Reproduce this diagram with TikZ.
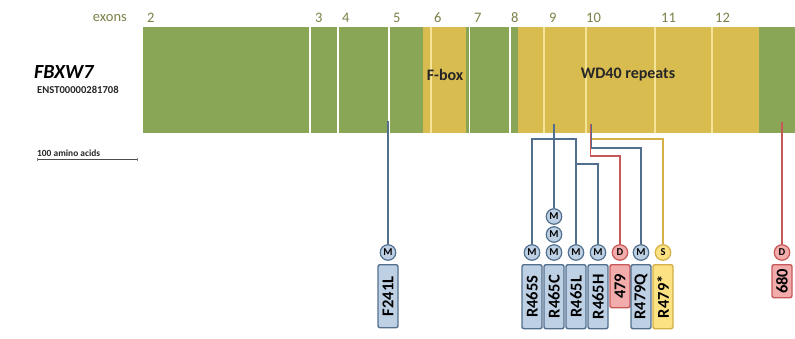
\documentclass[tikz,border=0pt]{standalone}
\usepackage{fontspec}
\setmainfont{Carlito}
\definecolor{exgreen}{RGB}{137,166,87}
\definecolor{exyellow}{RGB}{216,188,80}
\definecolor{paleline}{RGB}{246,228,150}
\definecolor{exlabel}{RGB}{125,128,72}
\definecolor{mline}{RGB}{82,112,142}
\definecolor{mfill}{RGB}{190,208,228}
\definecolor{dline}{RGB}{200,88,88}
\definecolor{dfill}{RGB}{242,172,172}
\definecolor{sline}{RGB}{212,176,70}
\definecolor{sfill}{RGB}{252,226,130}
\tikzset{
  exnum/.style={anchor=west,text=exlabel,font=\fontsize{14.5}{14.5}\selectfont,inner sep=0pt},
  domlabel/.style={font=\bfseries\fontsize{16}{16}\selectfont,text=black!85},
  badge/.style={circle,draw,line width=1.2pt,minimum size=15.5pt,inner sep=0pt,
    font=\bfseries\fontsize{10.5}{10.5}\selectfont},
  mbadge/.style={badge,draw=mline,fill=mfill},
  dbadge/.style={badge,draw=dline,fill=dfill},
  sbadge/.style={badge,draw=sline,fill=sfill},
  tag/.style={rectangle,rounded corners=2pt,rotate=90,anchor=east,line width=1.4pt,
    minimum height=20pt,inner sep=0pt,font=\bfseries\fontsize{16.5}{16.5}\selectfont},
  mtag/.style={tag,draw=mline,fill=mfill},
  dtag/.style={tag,draw=dline,fill=dfill},
  stag/.style={tag,draw=sline,fill=sfill},
  mwire/.style={draw=mline,line width=1.4pt},
  dwire/.style={draw=dline,line width=1.4pt},
  swire/.style={draw=sline,line width=1.4pt},
}
\begin{document}
\begin{tikzpicture}[x=1pt,y=-1pt]
\useasboundingbox (0,0) rectangle (795,338);
\fill[white] (0,0) rectangle (795,338);

% protein bar: exons coloured by domain
\fill[exgreen]  (143,27) rectangle (423,133);
\fill[exyellow] (423,27) rectangle (466,133);
\fill[exgreen]  (466,27) rectangle (518,133);
\fill[exyellow] (518,27) rectangle (759,133);
\fill[exgreen]  (759,27) rectangle (795,133);
% exon boundaries
\foreach \x in {310,338,389,469.5,510}
  \draw[white,line width=1.6pt] (\x,27) -- (\x,133);
\foreach \x in {431,544,586,655,712}
  \draw[paleline,line width=1.4pt] (\x,27) -- (\x,133);

% exon numbers
\node[anchor=east,text=exlabel,font=\fontsize{14.5}{14.5}\selectfont,inner sep=0pt] (exlab) at (127,18) {exons};
\node[exnum] (e2) at (147,18) {2};
\node[exnum] (e3) at (315,18) {3};
\node[exnum] (e4) at (342,18) {4};
\node[exnum] (e5) at (393,18) {5};
\node[exnum] (e6) at (434,18) {6};
\node[exnum] (e7) at (474,18) {7};
\node[exnum] (e8) at (511,18) {8};
\node[exnum] (e9) at (549,18) {9};
\node[exnum] (e10) at (586,18) {10};
\node[exnum] (e11) at (661,18) {11};
\node[exnum] (e12) at (715,18) {12};

% gene name, transcript and scale
\node[anchor=west,inner sep=0pt,font=\bfseries\itshape\fontsize{20}{20}\selectfont] (gene) at (34,72.5) {FBXW7};
\node[anchor=west,inner sep=0pt,font=\bfseries\fontsize{10.6}{10.6}\selectfont,text=black!85] (tx) at (37,90) {ENST00000281708};
\node[anchor=west,inner sep=0pt,font=\bfseries\fontsize{9.4}{9.4}\selectfont,text=black!85] (scl) at (37,153) {100 amino acids};
\coordinate (sa) at (37,159.5);
\coordinate (sb) at (137,159.5);
\draw[black!70,line width=0.9pt] (sa) -- (sb);
\draw[black!50,line width=0.6pt] (sa) ++(0,-1.5) -- ++(0,3) (sb) ++(0,-1.5) -- ++(0,3);

% domains
\node[domlabel] (fbox) at (445,75) {F-box};
\node[domlabel] (wd40) at (628,75) {WD40 repeats};

% mutation badges
\node[mbadge] (m241) at (388,252.5) {M};
\node[mbadge] (m465S) at (532,252.5) {M};
\node[mbadge] (m465C) at (554,252.5) {M};
\node[mbadge] (m465Cb) at (554,234.5) {M};
\node[mbadge] (m465Cc) at (554,216.5) {M};
\node[mbadge] (m465L) at (576,252.5) {M};
\node[mbadge] (m465H) at (598,252.5) {M};
\node[dbadge] (d479) at (620,252.5) {D};
\node[mbadge] (m479Q) at (641,252.5) {M};
\node[sbadge] (s479) at (663,252.5) {S};
\node[dbadge] (d680) at (782,252.5) {D};

% mutation tags
\node[mtag,minimum width=63pt] (t241) at (388,264) {F241L};
\node[mtag,minimum width=64pt] (t465S) at (532,264) {R465S};
\node[mtag,minimum width=64pt] (t465C) at (554,264) {R465C};
\node[mtag,minimum width=64pt] (t465L) at (576,264) {R465L};
\node[mtag,minimum width=64pt] (t465H) at (598,264) {R465H};
\node[dtag,minimum width=43pt] (t479) at (620,264) {479};
\node[mtag,minimum width=64pt] (t479Q) at (641,264) {R479Q};
\node[stag,minimum width=64pt] (t479s) at (663,264) {R479*};
\node[dtag,minimum width=33pt] (t680) at (782,264) {680};

% positions on the protein
\coordinate (p241) at (388,121);
\coordinate (p465) at (554,124);
\coordinate (p479) at (591,124);
\coordinate (p680) at (782,122);
\coordinate (j465) at (554,139);
\coordinate (k465) at (576,164);

% connectors
\draw[mwire] (p241) -- (m241);
\draw[dwire] (p680) -- (d680);
\draw[mwire] (p465) -- (m465Cc);
\draw[mwire] (m465S) |- (j465) -| (m465L);
\draw[mwire] (k465) -| (m465H);
\draw[swire] (p479) -- ++(0,15) -| (s479);
\draw[mwire] (p479) -- ++(0,24) -| (m479Q);
\draw[dwire] ([xshift=-0.5pt]p479) -- ++(0,32) -| (d479);
\end{tikzpicture}
\end{document}
